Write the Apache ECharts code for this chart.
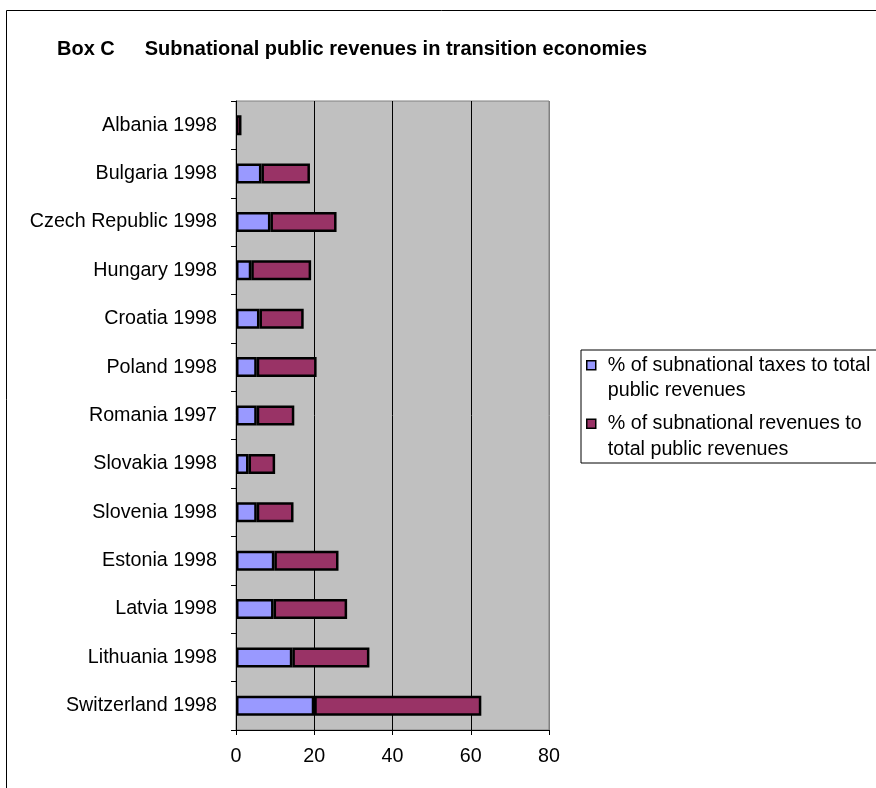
<!DOCTYPE html>
<html>
<head>
<meta charset="utf-8">
<script src="https://cdn.jsdelivr.net/npm/echarts@6/dist/echarts.min.js"></script>
<style>
  html, body { margin: 0; padding: 0; background: #fff; }
  #chart { width: 876px; height: 788px; }
</style>
</head>
<body>
<div id="chart"></div>
<script>
// categories, top to bottom
var categories = ['Albania 1998', 'Bulgaria 1998', 'Czech Republic 1998', 'Hungary 1998', 'Croatia 1998',
    'Poland 1998', 'Romania 1997', 'Slovakia 1998', 'Slovenia 1998', 'Estonia 1998', 'Latvia 1998',
    'Lithuania 1998', 'Switzerland 1998'];
// % of subnational taxes to total public revenues
var taxShare = [null, 6.5, 8.8, 3.9, 6.0, 5.3, 5.3, 3.2, 5.3, 9.8, 9.6, 14.4, 20.0];
// % of subnational revenues to total public revenues (stacked part)
var revenueShare = [1.4, 12.4, 16.9, 15.3, 11.3, 15.3, 9.6, 6.8, 9.4, 16.4, 18.8, 19.7, 42.7];
var xTicks = [0, 20, 40, 60, 80];

var seriesNames = ['% of subnational taxes to total public revenues', '% of subnational revenues to total public revenues'];
var legendLabels = ['% of subnational taxes to total\npublic revenues', '% of subnational revenues to\ntotal public revenues'];

var font = 'Arial, "Liberation Sans", sans-serif';
var chart = echarts.init(document.getElementById('chart'), null, { renderer: 'canvas' });

var option = {
    animation: false,
    backgroundColor: '#fff',
    title: {
        left: 57, top: 39, padding: 0,
        text: '{a|Box C}{b|Subnational public revenues in transition economies}',
        textStyle: {
            rich: {
                a: { fontFamily: font, fontSize: 20, fontWeight: 'bold', color: '#000' },
                b: { fontFamily: font, fontSize: 20, fontWeight: 'bold', color: '#000', padding: [0, 0, 0, 30] }
            }
        }
    },
    graphic: [{
        type: 'rect', silent: true,
        shape: { x: 6.5, y: 10.5, width: 1000, height: 1000 },
        style: { fill: 'none', stroke: '#000', lineWidth: 1 }
    }],
    legend: {
        orient: 'vertical', left: 581, top: 350,
        padding: [2, 14, 0, 5], itemGap: 6,
        itemWidth: 16, itemHeight: 51,
        icon: 'path://M0,0M16,51M0,8L9,8L9,17L0,17Z',
        borderColor: '#000', borderWidth: 1, backgroundColor: '#fff',
        itemStyle: { borderColor: '#000', borderWidth: 1.5 },
        textStyle: { fontFamily: font, fontSize: 19.7, lineHeight: 25.5, color: '#000' },
        formatter: function (name) { return legendLabels[seriesNames.indexOf(name)]; },
        selectedMode: false,
        data: seriesNames
    },
    grid: { left: 236, top: 101, width: 313, height: 629, show: true,
        backgroundColor: '#c0c0c0', borderColor: '#808080', borderWidth: 1 },
    xAxis: {
        type: 'value', min: xTicks[0], max: xTicks[xTicks.length - 1], interval: 20,
        axisLine: { show: true, lineStyle: { color: '#000', width: 1 } },
        axisTick: { show: true, length: 5, lineStyle: { color: '#000' } },
        axisLabel: { fontFamily: font, fontSize: 19.7, color: '#000', margin: 17 },
        splitLine: { show: true, lineStyle: { color: ['#000', '#000', '#000', '#000', '#808080'], width: 1 } }
    },
    yAxis: {
        type: 'category', inverse: true, data: categories,
        axisLine: { show: true, lineStyle: { color: '#000', width: 1 } },
        axisTick: { show: true, length: 5, lineStyle: { color: '#000' } },
        axisLabel: { fontFamily: font, fontSize: 19.7, color: '#000', margin: 19 },
        splitLine: { show: false }
    },
    series: [{
        name: seriesNames[0], type: 'bar', stack: 'total', barWidth: 20,
        itemStyle: { color: '#9999ff', borderColor: '#000', borderWidth: 2.5 },
        emphasis: { disabled: true },
        data: taxShare
    }, {
        name: seriesNames[1], type: 'bar', stack: 'total', barWidth: 20,
        itemStyle: { color: '#993366', borderColor: '#000', borderWidth: 2.5 },
        emphasis: { disabled: true },
        data: revenueShare
    }]
};
chart.setOption(option);
</script>
</body>
</html>
